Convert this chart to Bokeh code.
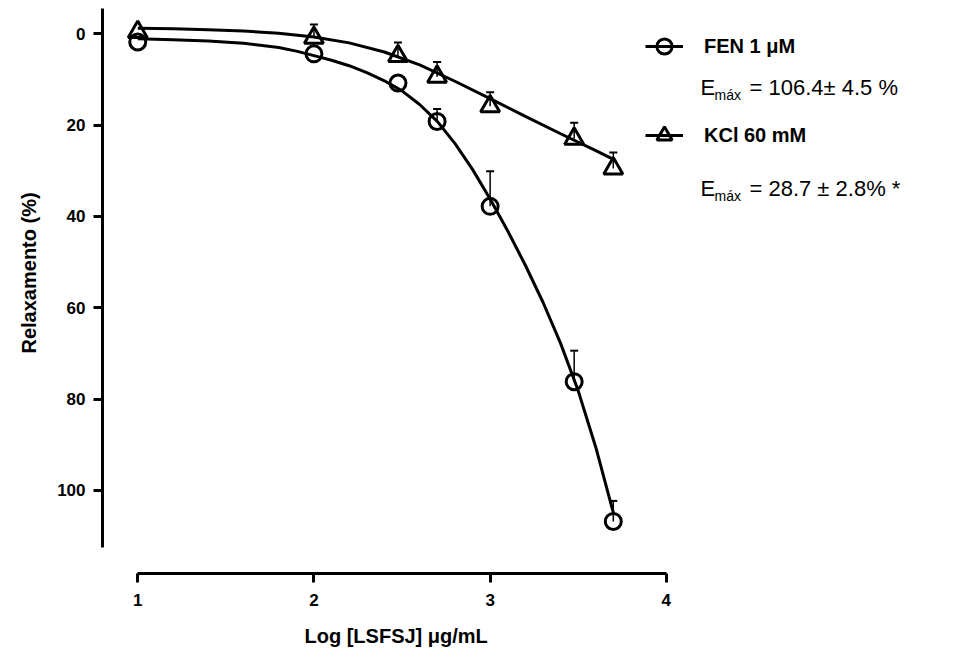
from bokeh.plotting import figure
from bokeh.models import (Range1d, Whisker, TeeHead, Legend, LegendItem, Label,
                          FixedTicker, ColumnDataSource, Title)
from bokeh.embed import file_html
from bokeh.resources import INLINE

# ---- data ----
log_conc = [1.0, 2.0, 2.477, 2.699, 3.0, 3.477, 3.699]
fen_mean = [1.8, 4.4, 10.8, 19.2, 37.8, 76.2, 106.8]
fen_sem = [0.0, 0.0, 0.0, 2.7, 7.7, 6.8, 4.5]
kcl_mean = [-0.4, 0.9, 4.9, 9.4, 15.9, 23.0, 29.5]
kcl_sem = [0.0, 2.9, 3.0, 3.2, 3.1, 3.5, 3.5]

fen_fit_x = [1.0, 1.2, 1.4, 1.6, 1.8, 1.9, 2.0, 2.1, 2.2, 2.3, 2.4, 2.5, 2.6,
             2.7, 2.8, 2.9, 3.0, 3.1, 3.2, 3.3, 3.4, 3.5, 3.6, 3.7]
fen_fit_y = [1.1, 1.3, 1.6, 2.1, 3.0, 3.8, 4.8, 5.8, 7.0, 8.5, 10.3, 12.5, 15.5,
             19.2, 24.0, 29.7, 36.2, 43.2, 50.7, 58.8, 67.8, 78.2, 90.6, 105.0]
kcl_fit_x = [1.0, 1.2, 1.4, 1.6, 1.8, 2.0, 2.2, 2.4, 2.6, 2.8, 3.0, 3.2, 3.4,
             3.6, 3.7]
kcl_fit_y = [-1.2, -1.1, -0.9, -0.6, -0.1, 0.7, 2.0, 4.0, 6.8, 10.4, 14.2, 18.1,
             21.9, 25.6, 27.5]

x_ticks = [1, 2, 3, 4]
y_ticks = [0, 20, 40, 60, 80, 100]
x_bounds = (1, 4)
y_bounds = (-5.5, 112.5)

x_title = "Log [LSFSJ] μg/mL"
y_title = "Relaxamento (%)"
series_labels = ["FEN 1 μM", "KCl 60 mM"]
emax_values = ["= 106.4± 4.5 %", "= 28.7 ± 2.8% *"]

FONT = "Liberation Sans"

p = figure(width=968, height=661,
           x_range=Range1d(0.8, 5.715), y_range=Range1d(118.2, -5.53),
           output_backend="svg", toolbar_location=None,
           min_border_left=102, min_border_right=0, min_border_top=8,
           min_border_bottom=87)
p.outline_line_color = None
p.grid.visible = False
p.background_fill_color = "white"
p.border_fill_color = "white"

# axes
xa = p.xaxis[0]
ya = p.yaxis[0]
xa.bounds = x_bounds
ya.bounds = y_bounds
xa.ticker = FixedTicker(ticks=x_ticks)
ya.ticker = FixedTicker(ticks=y_ticks)
for ax in (xa, ya):
    ax.axis_line_width = 3
    ax.axis_line_color = "black"
    ax.major_tick_line_width = 3
    ax.major_tick_line_color = "black"
    ax.major_tick_out = 9
    ax.major_tick_in = 0
    ax.minor_tick_line_color = None
    ax.major_label_text_font = FONT
    ax.major_label_text_font_style = "bold"
    ax.major_label_text_font_size = "17px"
    ax.major_label_text_color = "black"
xa.major_label_standoff = 11
ya.major_label_standoff = 8

# axis titles centred on the drawn axis extents, as in the reference
p.add_layout(Title(text=x_title, align="left", offset=202, standoff=29,
                   text_font=FONT, text_font_style="bold", text_font_size="20px",
                   text_color="black"), "below")
p.add_layout(Title(text=y_title, align="left", offset=220, standoff=29,
                   text_font=FONT, text_font_style="bold", text_font_size="20px",
                   text_color="black"), "left")

# error bars (only where visible)
def err_source(means, sems):
    xs = [x for x, s in zip(log_conc, sems) if s > 0]
    lo = [m - s for m, s in zip(means, sems) if s > 0]
    hi = [m for m, s in zip(means, sems) if s > 0]
    return ColumnDataSource(dict(x=xs, lower=lo, upper=hi))

for means, sems in ((fen_mean, fen_sem), (kcl_mean, kcl_sem)):
    w = Whisker(source=err_source(means, sems), base="x", lower="lower",
                upper="upper", dimension="height", line_width=1.5,
                line_color="black", upper_head=None,
                lower_head=TeeHead(size=8, line_width=2, line_color="black"))
    p.add_layout(w)

fen_line = p.line(fen_fit_x, fen_fit_y, line_width=3, line_color="black")
kcl_line = p.line(kcl_fit_x, kcl_fit_y, line_width=3, line_color="black")
fen_pts = p.scatter(log_conc, fen_mean, marker="circle", size=16, line_width=3,
                    line_color="black", fill_color=None)
kcl_pts = p.scatter(log_conc, kcl_mean, marker="triangle", size=19, line_width=3,
                    line_color="black", fill_color=None)

legend = Legend(items=[LegendItem(label=series_labels[0], renderers=[fen_line, fen_pts]),
                       LegendItem(label=series_labels[1], renderers=[kcl_line, kcl_pts])],
                location=(543, 418), glyph_width=38, glyph_height=40,
                label_height=40, spacing=49, padding=0, margin=0,
                border_line_color=None, background_fill_alpha=0,
                label_standoff=21, label_text_font=FONT,
                label_text_font_style="bold", label_text_font_size="20px",
                label_text_color="black")
p.add_layout(legend)

# E_max annotations
def px_x(v):
    return 0.8 + (v - 102) / 176.2

def px_y(v):
    return (v - 33.3) / 4.574

for base_y, txt in ((86.7, emax_values[0]), (188.0, emax_values[1])):
    p.add_layout(Label(x=px_x(700), y=px_y(base_y), text="E", text_font=FONT,
                       text_font_size="22px", text_baseline="alphabetic",
                       text_color="black"))
    p.add_layout(Label(x=px_x(714), y=px_y(base_y + 7.5), text="máx", text_font=FONT,
                       text_font_size="14px", text_baseline="alphabetic",
                       text_color="black"))
    p.add_layout(Label(x=px_x(749), y=px_y(base_y), text=txt, text_font=FONT,
                       text_font_size="22px", text_baseline="alphabetic",
                       text_color="black"))

open("out.html", "w").write(file_html(p, INLINE))
